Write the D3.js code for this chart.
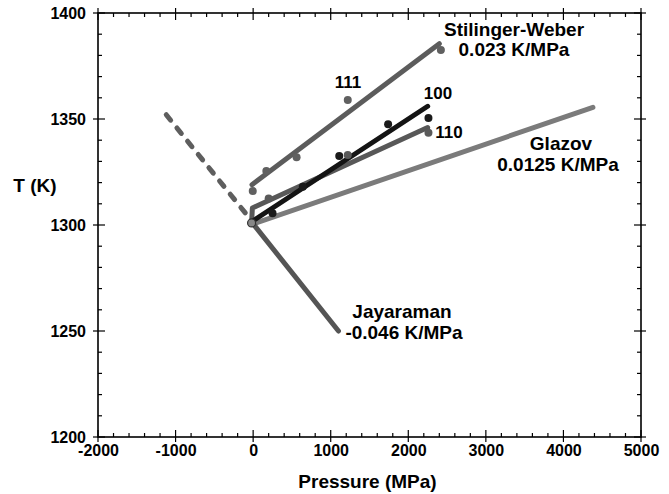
<!DOCTYPE html>
<html>
<head>
<meta charset="utf-8">
<script src="https://cdn.jsdelivr.net/npm/d3@7"></script>
<style>
  body { margin: 0; background: #fff; }
  text { font-family: "Liberation Sans", Arial, sans-serif; font-weight: bold; }
</style>
</head>
<body>
<svg id="chart" width="669" height="494"></svg>
<script>
// tick values
const majorX = [-2000, -1000, 0, 1000, 2000, 3000, 4000, 5000];
const minorX = d3.range(-2000, 5001, 200).filter((d) => d % 1000 !== 0);
const majorY = [1200, 1250, 1300, 1350, 1400];
const minorY = d3.range(1200, 1401, 10).filter((d) => d % 50 !== 0);

// simulation points [pressure MPa, T K]
const pts111 = [[-5, 1316], [170, 1325.5], [560, 1332], [1220, 1359], [2420, 1382.5]];
const pts100 = [[250, 1305.5], [640, 1318], [1110, 1332.5], [1740, 1347.5], [2260, 1350.5]];
const pts110 = [[200, 1312.5], [1220, 1333], [2260, 1343.5]];
const ptsOrigin = [[-20, 1301]];

// fitted / literature lines
const line111 = [[-15, 1319], [2400, 1385.5]];
const line100 = [[0, 1302], [2250, 1356]];
const line110 = [[-20, 1301], [-10, 1308], [2250, 1346]];
const glazov = [[0, 1300.5], [4380, 1355.5]];
const jayaraman = [[-10, 1301], [1100, 1250]];
const jayaramanExt = [[-1120, 1352], [-20, 1302]];

const svg = d3.select("#chart");
const margin = { top: 13, right: 28, bottom: 57, left: 98 };
const width = 669, height = 494;

const x = d3.scaleLinear().domain([-2000, 5000]).range([margin.left, width - margin.right]);
const y = d3.scaleLinear().domain([1200, 1400]).range([height - margin.bottom, margin.top]);

const x0 = x.range()[0], x1 = x.range()[1];
const y0 = y.range()[0], y1 = y.range()[1];

// tick labels from the axes (hyphen minus, no thousands separator)
const fmt = (d) => String(d);
const gx = svg.append("g").attr("transform", `translate(0,${y0})`)
  .call(d3.axisBottom(x).tickValues(majorX).tickSize(5).tickPadding(3).tickSizeOuter(0).tickFormat(fmt));
const gy = svg.append("g").attr("transform", `translate(${x0},0)`)
  .call(d3.axisLeft(y).tickValues(majorY).tickSize(5).tickPadding(7).tickSizeOuter(0).tickFormat(fmt));
[gx, gy].forEach((g) => {
  g.select(".domain").remove();
  g.selectAll(".tick line").remove();
  g.selectAll("text").attr("font-size", 16).attr("fill", "#000");
});

// tick marks on all four sides: majors cross the frame, minors point inward
const ticks = svg.append("g").attr("stroke", "#000").attr("stroke-width", 1.2);
const xTicks = majorX.map((v) => ({ v, o: 5, i: 7 })).concat(minorX.map((v) => ({ v, o: 0, i: 4 })));
const yTicks = majorY.map((v) => ({ v, o: 5, i: 7 })).concat(minorY.map((v) => ({ v, o: 0, i: 4 })));
ticks.selectAll(".xb").data(xTicks).join("line").attr("class", "xb")
  .attr("x1", (d) => x(d.v)).attr("x2", (d) => x(d.v))
  .attr("y1", (d) => y0 + d.o).attr("y2", (d) => y0 - d.i);
ticks.selectAll(".xt").data(xTicks).join("line").attr("class", "xt")
  .attr("x1", (d) => x(d.v)).attr("x2", (d) => x(d.v))
  .attr("y1", (d) => y1 - d.o).attr("y2", (d) => y1 + d.i);
ticks.selectAll(".yl").data(yTicks).join("line").attr("class", "yl")
  .attr("y1", (d) => y(d.v)).attr("y2", (d) => y(d.v))
  .attr("x1", (d) => x0 - d.o).attr("x2", (d) => x0 + d.i);
ticks.selectAll(".yr").data(yTicks).join("line").attr("class", "yr")
  .attr("y1", (d) => y(d.v)).attr("y2", (d) => y(d.v))
  .attr("x1", (d) => x1 + d.o).attr("x2", (d) => x1 - d.i);

svg.append("rect")
  .attr("x", x0).attr("y", y1)
  .attr("width", x1 - x0).attr("height", y0 - y1)
  .attr("fill", "none").attr("stroke", "#000").attr("stroke-width", 1.6);

// lines
const line = d3.line().x((d) => x(d[0])).y((d) => y(d[1]));
const series = [
  { data: glazov, color: "#7b7b7b" },
  { data: jayaraman, color: "#555" },
  { data: jayaramanExt, color: "#5e5e5e", dash: "7,10" },
  { data: line110, color: "#585858" },
  { data: line111, color: "#5c5c5c" },
  { data: line100, color: "#141414" },
];
svg.selectAll(".fit")
  .data(series)
  .join("path")
  .attr("class", "fit")
  .attr("d", (d) => line(d.data))
  .attr("fill", "none")
  .attr("stroke", (d) => d.color)
  .attr("stroke-width", 5)
  .attr("stroke-linecap", "round")
  .attr("stroke-linejoin", "round")
  .attr("stroke-dasharray", (d) => d.dash || null);

// points
const dots = [
  { data: pts111, color: "#606060" },
  { data: pts110, color: "#5a5a5a" },
  { data: pts100, color: "#1a1a1a" },
];
dots.forEach((s) => {
  svg.append("g").selectAll("circle")
    .data(s.data)
    .join("circle")
    .attr("cx", (d) => x(d[0]))
    .attr("cy", (d) => y(d[1]))
    .attr("r", 4)
    .attr("fill", s.color);
});
svg.append("g").selectAll("circle")
  .data(ptsOrigin)
  .join("circle")
  .attr("cx", (d) => x(d[0]))
  .attr("cy", (d) => y(d[1]))
  .attr("r", 4)
  .attr("fill", "#888")
  .attr("stroke", "#333")
  .attr("stroke-width", 1.2);

// annotations
const labels = [
  { t: "Stilinger-Weber", x: 514, y: 36 },
  { t: "0.023 K/MPa", x: 514, y: 56 },
  { t: "111", x: 348, y: 88 },
  { t: "100", x: 438, y: 99 },
  { t: "110", x: 449, y: 138 },
  { t: "Glazov", x: 561, y: 150 },
  { t: "0.0125 K/MPa", x: 558, y: 171 },
  { t: "Jayaraman", x: 402, y: 318 },
  { t: "-0.046 K/MPa", x: 404, y: 339 },
];
svg.selectAll(".lbl")
  .data(labels)
  .join("text")
  .attr("class", "lbl")
  .attr("x", (d) => d.x)
  .attr("y", (d) => d.y)
  .attr("text-anchor", "middle")
  .attr("font-size", (d) => (/^1[01]/.test(d.t) ? 17 : 19))
  .text((d) => d.t);

svg.append("text")
  .attr("x", (x0 + x1) / 2 - 2).attr("y", 488)
  .attr("text-anchor", "middle").attr("font-size", 19)
  .text("Pressure (MPa)");

svg.append("text")
  .attr("x", 35).attr("y", 192)
  .attr("text-anchor", "middle").attr("font-size", 19)
  .text("T (K)");
</script>
</body>
</html>
